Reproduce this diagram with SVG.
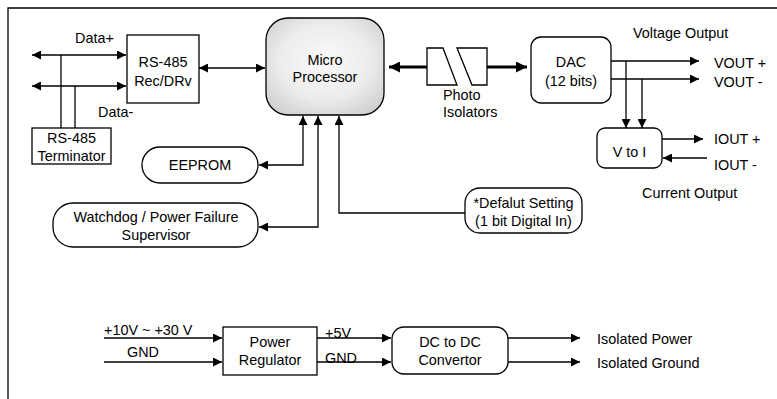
<svg xmlns="http://www.w3.org/2000/svg" width="777" height="399" viewBox="0 0 777 399">
<style>
text{font-family:"Liberation Sans",Arial,sans-serif;font-size:14.4px;fill:#000}
.c{text-anchor:middle}
.box{fill:#fff;stroke:#000;stroke-width:1.3}
.ln{fill:none;stroke:#000;stroke-width:1.3}
.thick{fill:none;stroke:#000;stroke-width:3.2}
.a2{marker-start:url(#ah);marker-end:url(#ah)}
.a1{marker-end:url(#ah)}
</style>
<defs>
<marker id="ah" markerUnits="userSpaceOnUse" viewBox="0 0 10 10" refX="10" refY="5" markerWidth="9" markerHeight="9" orient="auto-start-reverse"><path d="M0,0 L10,5 L0,10 z" fill="#000"/></marker>
<marker id="ahT" markerUnits="userSpaceOnUse" viewBox="0 0 10 10" refX="10" refY="5" markerWidth="11" markerHeight="11" orient="auto-start-reverse"><path d="M0,0 L10,5 L0,10 z" fill="#000"/></marker>
<radialGradient id="mpg" cx="50%" cy="45%" r="65%"><stop offset="0" stop-color="#fafafa"/><stop offset="0.6" stop-color="#ececec"/><stop offset="1" stop-color="#cfcfcf"/></radialGradient>
</defs>
<g id="frame"><path class="ln" d="M8,399 V8 H777"/></g>
<g id="connectors">
<line class="ln a2" x1="32" y1="55" x2="126" y2="55"/>
<line class="ln a2" x1="32" y1="86" x2="126" y2="86"/>
<line class="ln" x1="61" y1="55" x2="61" y2="128"/>
<line class="ln" x1="75" y1="86" x2="75" y2="128"/>
<line class="ln a2" x1="199" y1="68" x2="265" y2="68"/>
<line class="thick" x1="427" y1="67" x2="389" y2="67" style="marker-end:url(#ahT)"/>
<line class="thick" x1="487" y1="67" x2="527" y2="67" style="marker-end:url(#ahT)"/>
<line class="ln a1" x1="611" y1="61" x2="699" y2="61"/>
<line class="ln a1" x1="611" y1="79" x2="699" y2="79"/>
<line class="ln a1" x1="626" y1="61" x2="626" y2="128"/>
<line class="ln a1" x1="642" y1="79" x2="642" y2="128"/>
<line class="ln a1" x1="662" y1="139" x2="703" y2="139"/>
<line class="ln a1" x1="707" y1="158" x2="663" y2="158"/>
<polyline class="ln a2" points="303,116 303,165 259,165"/>
<polyline class="ln a2" points="318,116 318,227 259,227"/>
<polyline class="ln a1" points="465,213 339,213 339,116"/>
<line class="ln a1" x1="104" y1="338" x2="222" y2="338"/>
<line class="ln a1" x1="104" y1="362" x2="222" y2="362"/>
<line class="ln a1" x1="317" y1="338" x2="391" y2="338"/>
<line class="ln a1" x1="317" y1="362" x2="391" y2="362"/>
<line class="ln a1" x1="508" y1="338" x2="580" y2="338"/>
<line class="ln a1" x1="508" y1="362" x2="580" y2="362"/>
</g>
<g id="labels">
<text x="75" y="43">Data+</text>
<text x="98" y="117">Data-</text>
<text x="633" y="38">Voltage Output</text>
<text x="714" y="68">VOUT +</text>
<text x="714" y="87">VOUT -</text>
<text x="714" y="144">IOUT +</text>
<text x="714" y="170">IOUT -</text>
<text x="642" y="198">Current Output</text>
<text x="104" y="335">+10V ~ +30 V</text>
<text x="127" y="357">GND</text>
<text x="325" y="338">+5V</text>
<text x="325" y="363">GND</text>
<text x="597" y="344">Isolated Power</text>
<text x="597" y="368">Isolated Ground</text>
</g>
<g id="rs485"><rect class="box" x="127" y="35" width="72" height="68"/><text class="c" x="163" y="67">RS-485</text><text class="c" x="163" y="86">Rec/DRv</text></g>
<g id="terminator"><rect class="box" x="32" y="128" width="79" height="36"/><text class="c" x="71.5" y="143">RS-485</text><text class="c" x="71.5" y="161">Terminator</text></g>
<g id="micro"><rect x="266" y="18" width="118" height="97" rx="22" fill="url(#mpg)" stroke="#000" stroke-width="1.3"/><text class="c" x="325" y="65">Micro</text><text class="c" x="325" y="82">Processor</text></g>
<g id="photo"><path class="box" d="M427,48 H443 L457,85 H427 Z"/><path class="box" d="M457,48 H487 V85 H472 Z"/><text x="443" y="100">Photo</text><text x="443" y="117">Isolators</text></g>
<g id="dac"><rect class="box" x="531" y="37" width="80" height="66" rx="10"/><text class="c" x="571" y="67">DAC</text><text class="c" x="571" y="86">(12 bits)</text></g>
<g id="vtoi"><rect class="box" x="597" y="128" width="65" height="40" rx="8"/><text class="c" x="629.5" y="157">V to I</text></g>
<g id="eeprom"><rect class="box" x="142" y="147" width="116" height="36" rx="18"/><text class="c" x="200" y="170">EEPROM</text></g>
<g id="watchdog"><rect class="box" x="53" y="203" width="205" height="44" rx="20"/><text class="c" x="156" y="222">Watchdog / Power Failure</text><text class="c" x="156" y="240">Supervisor</text></g>
<g id="default"><rect class="box" x="465" y="188" width="117" height="45" rx="15"/><text class="c" x="523.5" y="208">*Defalut Setting</text><text class="c" x="523.5" y="226">(1 bit Digital In)</text></g>
<g id="regulator"><rect class="box" x="223" y="327" width="94" height="48"/><text class="c" x="270" y="347">Power</text><text class="c" x="270" y="365">Regulator</text></g>
<g id="dcdc"><rect class="box" x="392" y="327" width="116" height="47" rx="12"/><text class="c" x="450" y="347">DC to DC</text><text class="c" x="450" y="365">Convertor</text></g>
</svg>
